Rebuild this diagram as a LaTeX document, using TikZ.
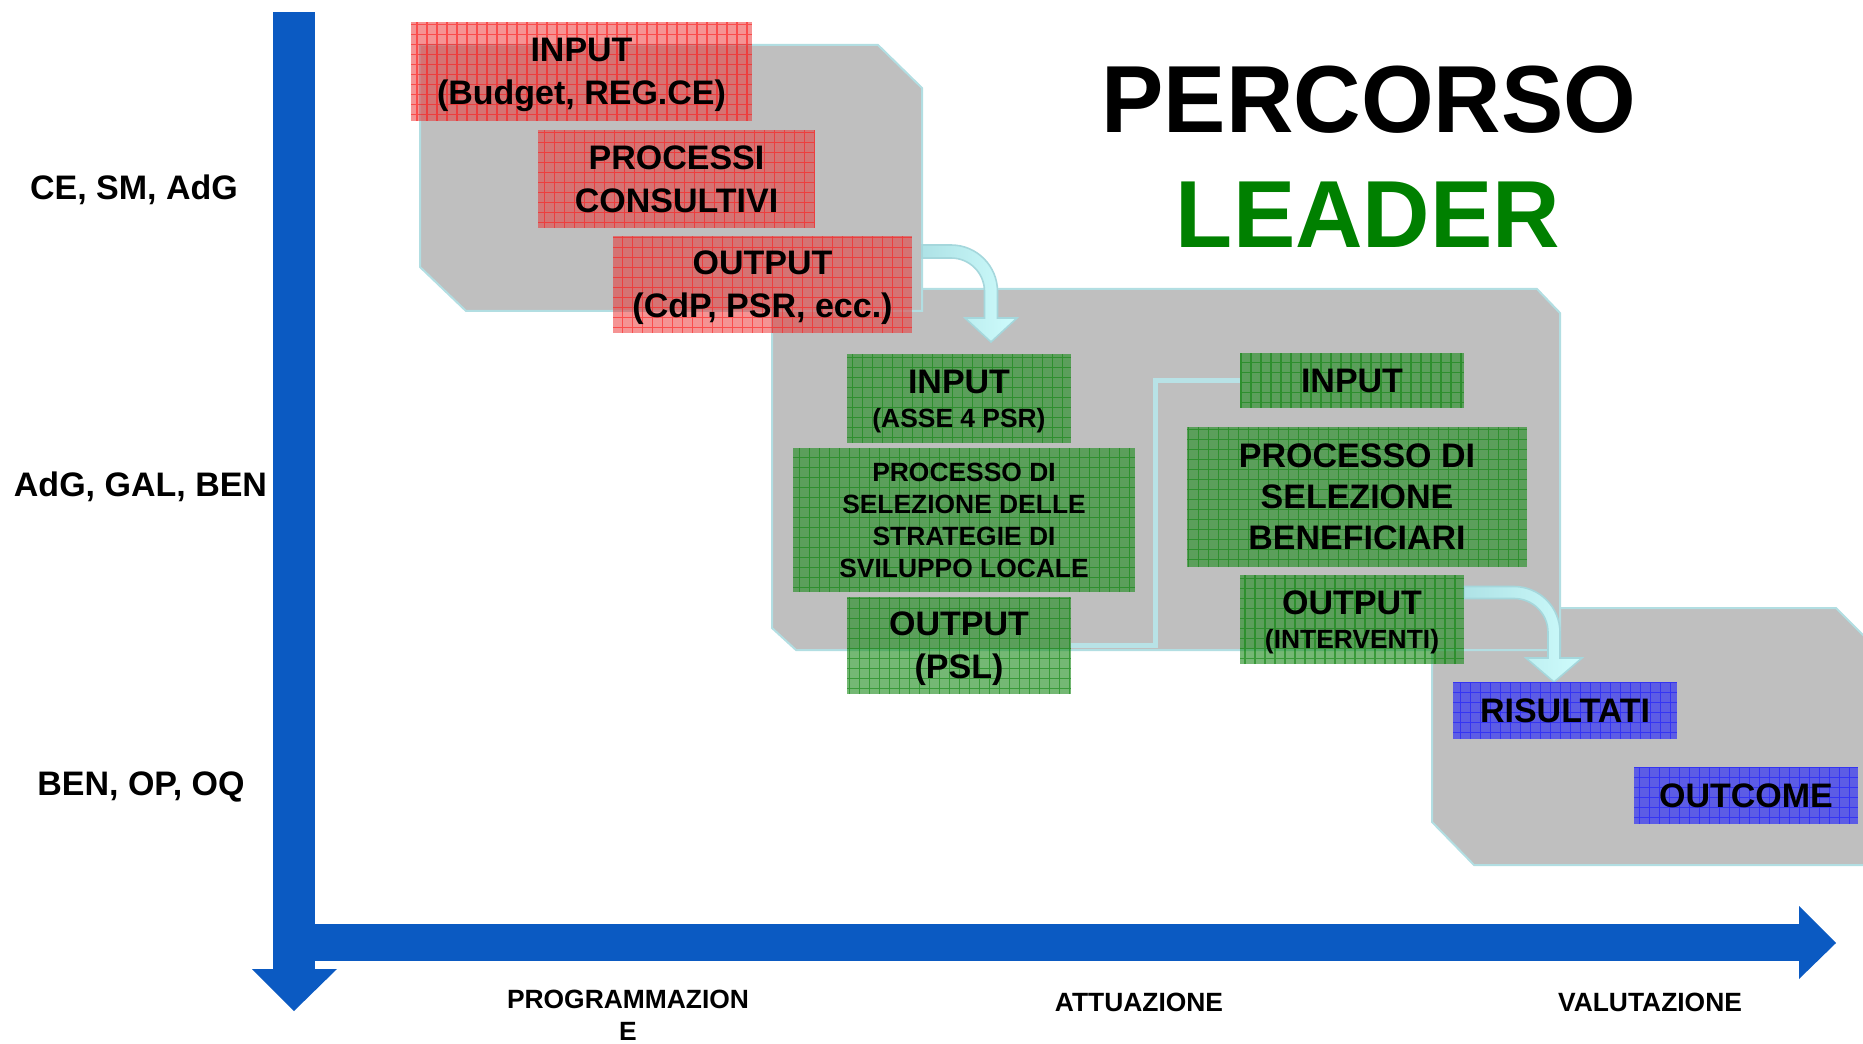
\documentclass[tikz,border=0pt]{standalone}
\usepackage{fontspec}
\setmainfont{Liberation Sans}
\definecolor{panelgray}{RGB}{191,191,191}
\definecolor{panelline}{RGB}{178,222,226}
\definecolor{axisblue}{RGB}{11,90,194}
\definecolor{leadergreen}{RGB}{0,128,0}
\definecolor{redbase}{RGB}{235,40,40}
\definecolor{redline}{RGB}{255,20,20}
\definecolor{greenbase}{RGB}{30,140,30}
\definecolor{greenline}{RGB}{10,130,10}
\definecolor{bluebase}{RGB}{40,40,250}
\definecolor{blueline}{RGB}{20,20,255}
\definecolor{arrowL}{RGB}{174,226,230}
\definecolor{arrowR}{RGB}{206,252,252}
\definecolor{arrowline}{RGB}{165,215,220}
\definecolor{elbowcol}{RGB}{184,226,230}
\begin{document}
\begin{tikzpicture}[x=0.75pt,y=-0.75pt,
  panel/.style={fill=panelgray, draw=panelline, line width=1.5pt, line join=miter},
  wh/.style 2 args={minimum width=#1*0.75pt, minimum height=#2*0.75pt},
  boxbase/.style={inner sep=0pt, text opacity=1, text depth=0pt, align=center,
    font=\bfseries\fontsize{25.5}{32.25}\selectfont},
  gridfill/.style={path picture={\draw[#1, line width=0.8pt, opacity=0.55, step=7.5pt]
    (path picture bounding box.south west) grid (path picture bounding box.north east);}},
  redbox/.style={boxbase, fill=redbase, fill opacity=0.5, gridfill=redline},
  greenbox/.style={boxbase, fill=greenbase, fill opacity=0.62, gridfill=greenline},
  bluebox/.style={boxbase, fill=bluebase, fill opacity=0.65, gridfill=blueline},
  biglabel/.style={inner sep=0pt, font=\bfseries\fontsize{25.5}{32.25}\selectfont},
  smalllabel/.style={inner sep=0pt, align=center, text depth=0pt, font=\bfseries\fontsize{19.8}{24}\selectfont},
  title/.style={inner sep=0pt, font=\bfseries\fontsize{71.5}{80}\selectfont, xscale=0.98},
  blockarrow/.style={left color=arrowL, right color=arrowR, draw=arrowline, line width=1.2pt, line join=miter},
  elbow/.style={draw=elbowcol, line width=3.75pt}
]
\useasboundingbox (0,0) rectangle (1863,1044);
\clip (0,0) rectangle (1863,1044);

% grey panels
\path[panel] (1432,608) -- (1836,608) -- (1880,652) -- (1880,865) -- (1474,865) -- (1432,822) -- cycle;
\path[panel] (772,289) -- (1537,289) -- (1560,313) -- (1560,650) -- (796,650) -- (772,628) -- cycle;
\path[panel] (420,45) -- (878,45) -- (922,88) -- (922,311) -- (466,311) -- (420,267) -- cycle;

% axes
\fill[axisblue] (273,12) rectangle (315,969);
\fill[axisblue] (252,969) -- (337,969) -- (294,1011) -- cycle;
\fill[axisblue] (273,924) rectangle (1799,961);
\fill[axisblue] (1799,906) -- (1836,943) -- (1799,979) -- cycle;

% row labels
\node[biglabel, anchor=base] (lab1) at (134,200) {CE, SM, AdG};
\node[biglabel, anchor=base] (lab2) at (140.5,497) {AdG, GAL, BEN};
\node[biglabel, anchor=base] (lab3) at (141,795) {BEN, OP, OQ};

% column labels
\node[smalllabel, anchor=south] (col1) at (628,1041) {PROGRAMMAZION\\E};
\node[smalllabel, anchor=base] (col2) at (1139,1011) {ATTUAZIONE};
\node[smalllabel, anchor=base] (col3) at (1650,1011) {VALUTAZIONE};

% title
\node[title] (t1) at (1369,100) {PERCORSO};
\node[title, text=leadergreen] (t2) at (1368,215) {LEADER};

% block arrows
\coordinate (a1s) at (922,251.5);
\coordinate (a1t) at (991,342);
\path[blockarrow] (922,245) -- (951,245) .. controls (976.7,245) and (997.5,265.8) .. (997.5,291.5)
  -- (997.5,318) -- (1017,318) -- (a1t) -- (965,318) -- (984.5,318) -- (984.5,291.5)
  .. controls (984.5,273) and (969.5,258) .. (951,258) -- (922,258) -- cycle;
\path[blockarrow] (1464,586.5) -- (1514,586.5) .. controls (1539.4,586.5) and (1560,607.1) .. (1560,632.5)
  -- (1560,658) -- (1582,658) -- (1554,682) -- (1526,658) -- (1548,658) -- (1548,632.5)
  .. controls (1548,613.7) and (1532.8,598.5) .. (1514,598.5) -- (1464,598.5) -- cycle;

% red boxes
\node[redbox, wh={341}{99}] (r1) at (581.5,71.5) {INPUT\\(Budget, REG.CE)};
\node[redbox, wh={277}{98}] (r2) at (676.5,179) {PROCESSI\\CONSULTIVI};
\node[redbox, wh={299}{97}] (r3) at (762.5,284.5) {OUTPUT\\(CdP, PSR, ecc.)};

% green boxes
\node[greenbox, wh={224}{89}, font=\bfseries\fontsize{25.5}{25.5}\selectfont] (g1) at (959,398.5)
  {INPUT\\{\fontsize{19.8}{24}\selectfont (ASSE 4 PSR)}};
\node[greenbox, wh={342}{144}, font=\bfseries\fontsize{19.8}{24}\selectfont] (g2) at (964,520)
  {PROCESSO DI\\SELEZIONE DELLE\\STRATEGIE DI\\SVILUPPO LOCALE};
\node[greenbox, wh={224}{97}] (g3) at (959,645.5) {OUTPUT\\(PSL)};
\node[greenbox, wh={224}{55}] (g4) at (1352,380.5) {INPUT};
\node[greenbox, wh={340}{140}, font=\bfseries\fontsize{25.5}{30.75}\selectfont] (g5) at (1357,497)
  {PROCESSO DI\\SELEZIONE\\BENEFICIARI};
\node[greenbox, wh={224}{89}, font=\bfseries\fontsize{25.5}{25.1}\selectfont] (g6) at (1352,619.5)
  {OUTPUT\\{\fontsize{19.8}{24}\selectfont (INTERVENTI)}};

% blue boxes
\node[bluebox, wh={224}{57}] (b1) at (1565,710.5) {RISULTATI};
\node[bluebox, wh={224}{57}] (b2) at (1746,795.5) {OUTCOME};

% elbow connector
\draw[elbow] (g3.east) -- ++(84.5,0) |- (g4.west);
\end{tikzpicture}
\end{document}
